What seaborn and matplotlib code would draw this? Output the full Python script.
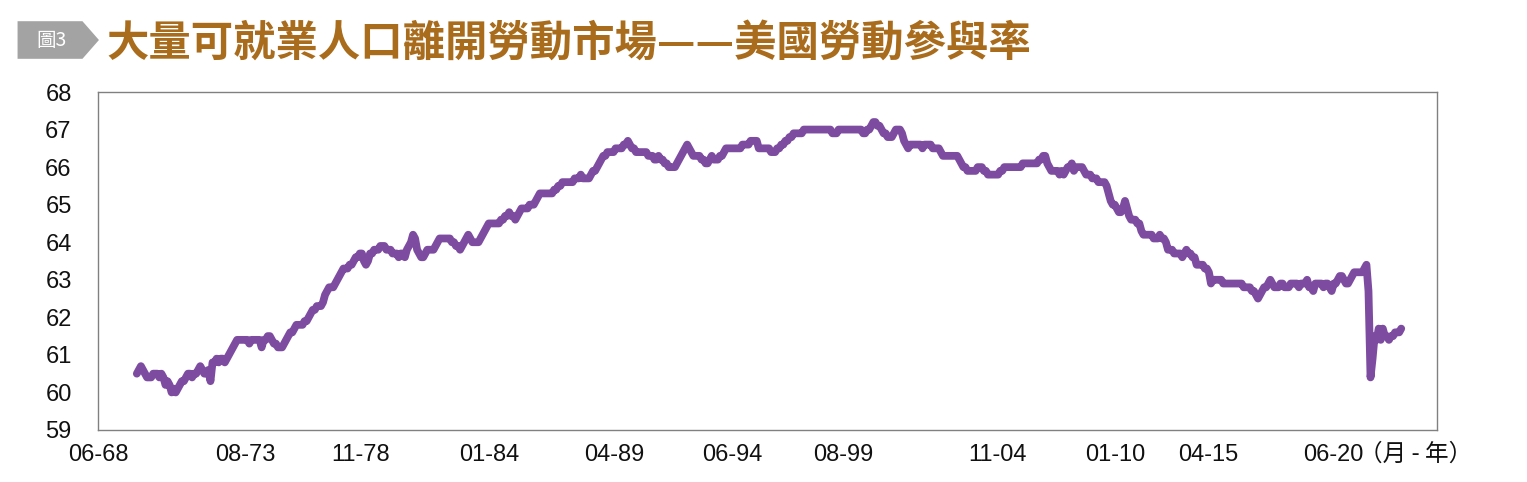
import numpy as np
import pandas as pd
import matplotlib
matplotlib.use("Agg")
import matplotlib.pyplot as plt
from matplotlib.patches import Polygon
import seaborn as sns

# --- data: US labour force participation rate (%), monthly, Jan 1970 - Jul 2021 ---
lfpr_1970s = [
    60.5, 60.6, 60.7, 60.6, 60.5, 60.4, 60.4, 60.4, 60.5, 60.5, 60.5, 60.4,  # 1970
    60.5, 60.4, 60.2, 60.3, 60.2, 60.0, 60.1, 60.0, 60.1, 60.2, 60.3, 60.3,  # 1971
    60.4, 60.5, 60.5, 60.4, 60.5, 60.5, 60.6, 60.7, 60.6, 60.5, 60.5, 60.6,  # 1972
    60.3, 60.8, 60.8, 60.9, 60.8, 60.9, 60.9, 60.8, 60.9, 61.0, 61.1, 61.2,  # 1973
    61.3, 61.4, 61.4, 61.4, 61.4, 61.4, 61.4, 61.3, 61.4, 61.4, 61.4, 61.4,  # 1974
    61.4, 61.2, 61.4, 61.4, 61.5, 61.5, 61.4, 61.3, 61.3, 61.2, 61.2, 61.2,  # 1975
    61.3, 61.4, 61.5, 61.6, 61.6, 61.7, 61.8, 61.8, 61.8, 61.8, 61.9, 61.9,  # 1976
    62.0, 62.1, 62.2, 62.2, 62.3, 62.3, 62.3, 62.4, 62.6, 62.7, 62.8, 62.8,  # 1977
    62.8, 62.9, 63.0, 63.1, 63.2, 63.3, 63.3, 63.3, 63.4, 63.4, 63.5, 63.6,  # 1978
    63.6, 63.7, 63.7, 63.5, 63.4, 63.5, 63.7, 63.7, 63.8, 63.8, 63.8, 63.9,  # 1979
]
lfpr_1980s = [
    63.9, 63.9, 63.8, 63.8, 63.8, 63.7, 63.7, 63.7, 63.6, 63.7, 63.7, 63.6,  # 1980
    63.8, 63.9, 64.0, 64.2, 64.1, 63.8, 63.7, 63.6, 63.6, 63.7, 63.8, 63.8,  # 1981
    63.8, 63.8, 63.9, 64.0, 64.1, 64.1, 64.1, 64.1, 64.1, 64.1, 64.0, 64.0,  # 1982
    63.9, 63.9, 63.8, 63.9, 64.0, 64.1, 64.2, 64.1, 64.0, 64.0, 64.0, 64.0,  # 1983
    64.1, 64.2, 64.3, 64.4, 64.5, 64.5, 64.5, 64.5, 64.5, 64.5, 64.6, 64.6,  # 1984
    64.7, 64.7, 64.8, 64.7, 64.7, 64.6, 64.7, 64.8, 64.9, 64.9, 64.9, 64.9,  # 1985
    65.0, 65.0, 65.0, 65.1, 65.2, 65.3, 65.3, 65.3, 65.3, 65.3, 65.3, 65.3,  # 1986
    65.4, 65.4, 65.5, 65.5, 65.6, 65.6, 65.6, 65.6, 65.6, 65.6, 65.7, 65.7,  # 1987
    65.7, 65.8, 65.7, 65.7, 65.7, 65.7, 65.8, 65.9, 65.9, 66.0, 66.1, 66.2,  # 1988
    66.3, 66.3, 66.4, 66.4, 66.4, 66.4, 66.5, 66.5, 66.5, 66.5, 66.6, 66.6,  # 1989
]
lfpr_1990s = [
    66.7, 66.6, 66.5, 66.5, 66.4, 66.4, 66.4, 66.4, 66.4, 66.4, 66.3, 66.3,  # 1990
    66.3, 66.2, 66.2, 66.3, 66.2, 66.2, 66.1, 66.1, 66.0, 66.0, 66.0, 66.0,  # 1991
    66.1, 66.2, 66.3, 66.4, 66.5, 66.6, 66.5, 66.4, 66.3, 66.3, 66.3, 66.3,  # 1992
    66.2, 66.2, 66.1, 66.1, 66.2, 66.3, 66.2, 66.2, 66.2, 66.3, 66.3, 66.4,  # 1993
    66.5, 66.5, 66.5, 66.5, 66.5, 66.5, 66.5, 66.5, 66.6, 66.6, 66.6, 66.6,  # 1994
    66.7, 66.7, 66.7, 66.7, 66.5, 66.5, 66.5, 66.5, 66.5, 66.5, 66.4, 66.4,  # 1995
    66.4, 66.5, 66.5, 66.6, 66.6, 66.7, 66.7, 66.8, 66.8, 66.9, 66.9, 66.9,  # 1996
    66.9, 66.9, 67.0, 67.0, 67.0, 67.0, 67.0, 67.0, 67.0, 67.0, 67.0, 67.0,  # 1997
    67.0, 67.0, 67.0, 67.0, 66.9, 66.9, 66.9, 67.0, 67.0, 67.0, 67.0, 67.0,  # 1998
    67.0, 67.0, 67.0, 67.0, 67.0, 67.0, 67.0, 66.9, 66.9, 67.0, 67.0, 67.1,  # 1999
]
lfpr_2000s = [
    67.2, 67.2, 67.1, 67.1, 67.0, 66.9, 66.9, 66.8, 66.8, 66.8, 66.9, 67.0,  # 2000
    67.0, 67.0, 66.9, 66.7, 66.6, 66.5, 66.6, 66.6, 66.6, 66.6, 66.6, 66.6,  # 2001
    66.5, 66.6, 66.6, 66.6, 66.6, 66.5, 66.5, 66.5, 66.5, 66.4, 66.3, 66.3,  # 2002
    66.3, 66.3, 66.3, 66.3, 66.3, 66.3, 66.2, 66.1, 66.0, 66.0, 65.9, 65.9,  # 2003
    65.9, 65.9, 65.9, 66.0, 66.0, 66.0, 65.9, 65.9, 65.8, 65.8, 65.8, 65.8,  # 2004
    65.8, 65.8, 65.9, 65.9, 66.0, 66.0, 66.0, 66.0, 66.0, 66.0, 66.0, 66.0,  # 2005
    66.0, 66.1, 66.1, 66.1, 66.1, 66.1, 66.1, 66.1, 66.1, 66.2, 66.2, 66.3,  # 2006
    66.3, 66.1, 66.0, 65.9, 65.9, 65.9, 65.9, 65.8, 65.9, 65.8, 65.9, 66.0,  # 2007
    66.0, 66.1, 65.9, 66.0, 66.0, 66.0, 66.0, 65.9, 65.8, 65.8, 65.8, 65.7,  # 2008
    65.7, 65.7, 65.6, 65.6, 65.6, 65.6, 65.5, 65.3, 65.1, 65.0, 65.0, 64.9,  # 2009
]
lfpr_2010s = [
    64.8, 64.8, 64.9, 65.1, 64.9, 64.7, 64.6, 64.6, 64.6, 64.5, 64.5, 64.3,  # 2010
    64.2, 64.2, 64.2, 64.2, 64.2, 64.1, 64.1, 64.1, 64.2, 64.1, 64.1, 64.0,  # 2011
    63.8, 63.8, 63.8, 63.7, 63.7, 63.7, 63.7, 63.6, 63.7, 63.8, 63.7, 63.7,  # 2012
    63.6, 63.6, 63.4, 63.4, 63.4, 63.4, 63.3, 63.3, 63.2, 62.9, 63.0, 63.0,  # 2013
    63.0, 63.0, 63.0, 62.9, 62.9, 62.9, 62.9, 62.9, 62.9, 62.9, 62.9, 62.9,  # 2014
    62.9, 62.8, 62.8, 62.8, 62.8, 62.7, 62.7, 62.6, 62.5, 62.6, 62.7, 62.8,  # 2015
    62.8, 62.9, 63.0, 62.9, 62.8, 62.8, 62.8, 62.9, 62.9, 62.8, 62.8, 62.8,  # 2016
    62.9, 62.9, 62.9, 62.9, 62.8, 62.9, 62.9, 62.9, 63.0, 62.8, 62.8, 62.7,  # 2017
    62.9, 62.9, 62.9, 62.9, 62.8, 62.9, 62.9, 62.8, 62.7, 62.9, 62.9, 63.0,  # 2018
    63.1, 63.1, 63.0, 62.9, 62.9, 63.0, 63.1, 63.2, 63.2, 63.2, 63.2, 63.2,  # 2019
]
lfpr_2020s = [
    63.3, 63.4, 62.7, 60.4, 60.9, 61.5, 61.4, 61.7, 61.4, 61.7, 61.5, 61.5,  # 2020
    61.4, 61.5, 61.5, 61.6, 61.6, 61.6, 61.7,                                # 2021
]

tick_labels = ["06-68", "08-73", "11-78", "01-84", "04-89", "06-94",
               "08-99", "11-04", "01-10", "04-15", "06-20"]
# where the labels sit on the original (decimal years)
tick_pos = [1968.42, 1974.41, 1979.13, 1984.34, 1989.44, 1994.24,
            1998.76, 2005.04, 2009.84, 2013.63, 2018.72]

title = "大量可就業人口離開勞動市場——美國勞動參與率"
badge = "圖3"
unit = "（月 - 年）"

values = lfpr_1970s + lfpr_1980s + lfpr_1990s + lfpr_2000s + lfpr_2010s + lfpr_2020s
df = pd.DataFrame({"year": 1970 + np.arange(len(values)) / 12.0, "rate": values})

# --- style ---
sns.set_theme(style="white")
plt.rcParams["font.family"] = ["Liberation Sans", "Noto Sans CJK TC", "DejaVu Sans"]

fig = plt.figure(figsize=(15.27, 4.82), dpi=100)
ax = fig.add_axes([0.0642, 0.1079, 0.8769, 0.7012])

sns.lineplot(data=df, x="year", y="rate", color="#7d4ca1", linewidth=5.6,
             solid_capstyle="round", solid_joinstyle="round", ax=ax)

ax.set_xlim(1968.42, 2022.96)
ax.set_ylim(59, 68)
ax.set_yticks(range(59, 69))
ax.set_xticks(tick_pos)
ax.set_xticklabels(tick_labels)
ax.set_xlabel("")
ax.set_ylabel("")
ax.tick_params(axis="y", length=0, pad=19, labelsize=17, labelcolor="#111111")
ax.tick_params(axis="x", length=0, pad=10, labelsize=17, labelcolor="#111111")
for s in ax.spines.values():
    s.set_color("#808080")
    s.set_linewidth(1.0)

# unit note after the last tick label
fig.text(0.927, 0.058, unit, fontsize=17, color="#111111",
         family=["Noto Sans CJK TC"], ha="center", va="center")

# badge + title
badge_shape = Polygon([(0.0115, 0.878), (0.0540, 0.878), (0.0648, 0.917),
                       (0.0540, 0.956), (0.0115, 0.956)],
                      closed=True, transform=fig.transFigure,
                      facecolor="#a3a3a3", edgecolor="none")
fig.patches.append(badge_shape)
fig.text(0.0335, 0.917, badge, fontsize=14, color="white",
         family=["Noto Sans CJK TC"], ha="center", va="center")
fig.text(0.0695, 0.910, title, fontsize=30.5, color="#a86c1c", fontweight="bold",
         family=["Noto Sans CJK TC"], ha="left", va="center")

fig.savefig("out.png", dpi=100)
